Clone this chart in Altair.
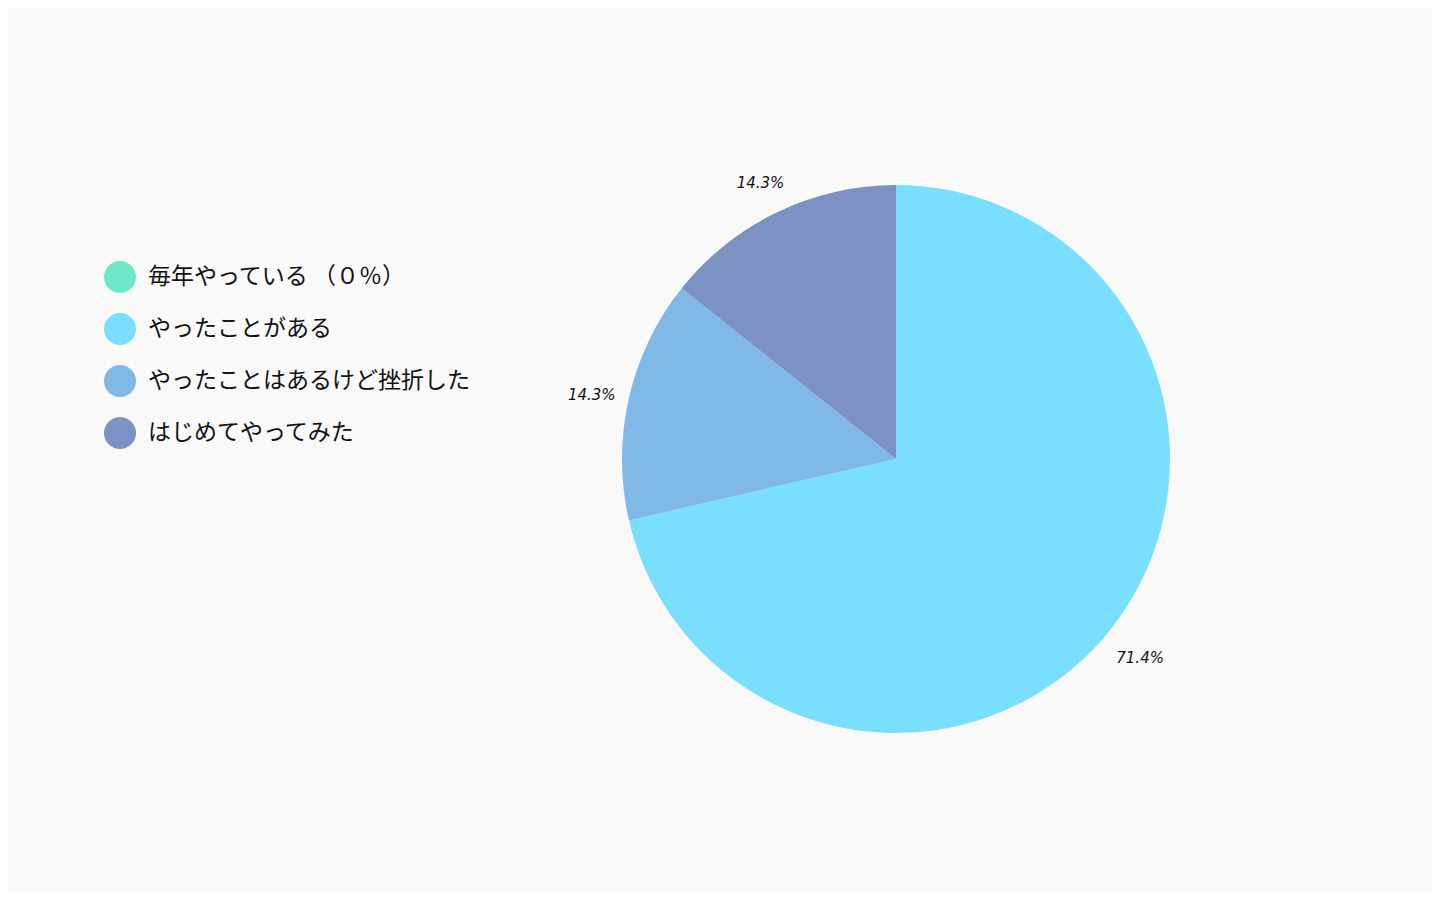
import altair as alt
import pandas as pd

categories = ["毎年やっている （０％）", "やったことがある", "やったことはあるけど挫折した", "はじめてやってみた"]
values = [0.0, 71.4, 14.3, 14.3]
labels = ["", "71.4%", "14.3%", "14.3%"]
colors = ["#6EE7C7", "#7ADFFF", "#80B9E8", "#7B92C2"]

df = pd.DataFrame({"category": categories, "value": values, "label": labels, "idx": list(range(len(categories)))})

CX, CY, R = 888, 451, 274

base = alt.Chart(df).encode(
    theta=alt.Theta("value:Q", stack=True),
    order=alt.Order("idx:Q"),
)

pie = base.mark_arc(x=CX, y=CY, outerRadius=R).encode(
    color=alt.Color(
        "category:N",
        sort=categories,
        scale=alt.Scale(domain=categories, range=colors),
        legend=alt.Legend(
            title=None,
            orient="none",
            legendX=96,
            legendY=253,
            symbolType="circle",
            symbolSize=1024,
            symbolStrokeWidth=0,
            labelFont="Noto Sans CJK JP",
            labelFontSize=23,
            labelColor="#111111",
            labelOffset=12,
            rowPadding=20,
            labelLimit=600,
            padding=0,
        ),
    )
)

text = base.mark_text(
    x=CX, y=CY, radius=312, dy=5, font="DejaVu Sans", fontStyle="italic", fontSize=15, color="#111111"
).encode(text="label:N")

chart = (
    alt.layer(pie, text)
    .properties(width=1424, height=884, background="#F9F9F9", padding=0, autosize="none")
    .configure_view(stroke=None)
)

chart.save("out.html", embed_options={"renderer": "svg", "actions": False})
